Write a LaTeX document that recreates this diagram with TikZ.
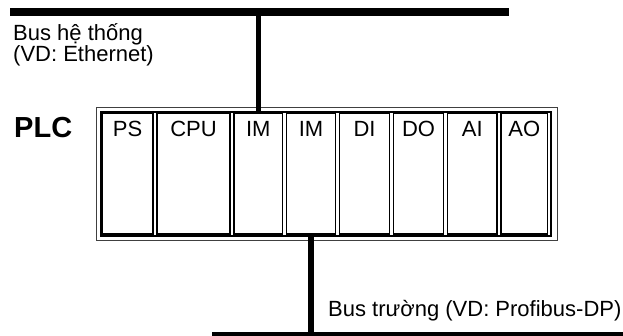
\documentclass[tikz,border=0pt]{standalone}
\usepackage{fontspec}
\setmainfont{Liberation Sans}
\usetikzlibrary{positioning}

\begin{document}
\begin{tikzpicture}[x=1pt, y=1pt,
      font=\fontsize{22}{21}\selectfont,
      modul/.style={draw, line width=1.3pt, outer sep=0pt, inner xsep=0pt, inner ysep=8.5pt,
                    text height=15.5pt, text depth=88.5pt},
      bus/.style={fill=black, inner sep=0pt, outer sep=0pt, minimum height=7.4pt},
      stub/.style={line width=5pt},
      node distance=4pt]
    \useasboundingbox (0,0) rectangle (623,336);
    % rack frame
    \draw[line width=0.9pt, black!75] (96.5,95.5) rectangle (557.5,229);
    \draw[line width=1.6pt] (101,100) rectangle (551,224);
    % modules
    \node[modul, minimum width=51pt, anchor=south west] (ps) at (102,102) {PS};
    \node[modul, minimum width=73pt, right=of ps] (cpu) {CPU};
    \node[modul, minimum width=48.5pt, right=of cpu] (im1) {IM};
    \node[modul, minimum width=49pt, right=of im1] (im2) {IM};
    \node[modul, minimum width=50pt, right=of im2] (di) {DI};
    \node[modul, minimum width=50pt, right=of di] (do) {DO};
    \node[modul, minimum width=49.5pt, right=of do] (ai) {AI};
    \node[modul, minimum width=46.5pt, right=of ai] (ao) {AO};
    % buses
    \node[bus, minimum width=499pt] (sysbus) at (259.5,324) {};
    \node[bus, minimum width=411pt, minimum height=4.3pt, anchor=south] (fieldbus) at (417.5,0) {};
    \draw[stub] (im1.north) -- (im1.north |- sysbus.south);
    \draw[stub, line width=5.5pt] (im2.south) -- (im2.south |- fieldbus.north);
    % labels
    \node[anchor=base west, align=left, inner sep=0pt] (syslbl) at (13,274) {Bus hệ thống\\(VD: Ethernet)};
    \node[anchor=base west, inner sep=0pt, font=\fontsize{29}{29}\selectfont\bfseries] (plc) at (14,198) {PLC};
    \node[anchor=base west, inner sep=0pt] (fieldlbl) at (328,19) {Bus trường (VD: Profibus-DP)};
\end{tikzpicture}
\end{document}
